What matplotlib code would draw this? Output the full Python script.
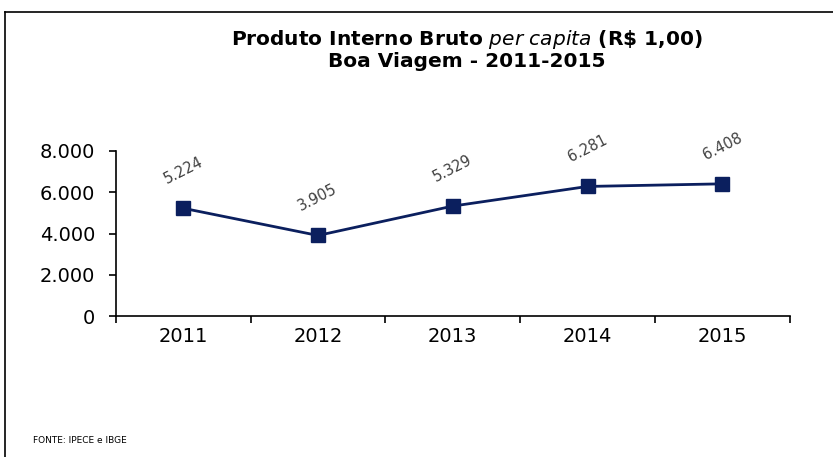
import matplotlib.pyplot as plt
from matplotlib.lines import Line2D

# Data
anos = ['2011', '2012', '2013', '2014', '2015']
pib_per_capita = [5224, 3905, 5329, 6281, 6408]
rotulos = ['5.224', '3.905', '5.329', '6.281', '6.408']
yticks = [0, 2000, 4000, 6000, 8000]
ytick_labels = ['0', '2.000', '4.000', '6.000', '8.000']

plt.rcParams['font.family'] = ['DejaVu Sans']

fig = plt.figure(figsize=(8.33, 4.57), dpi=100)
ax = fig.add_axes([0.139, 0.3085, 0.809, 0.3611])

x = range(len(anos))
ax.plot(x, pib_per_capita, color='#0b1f5e', linewidth=2, marker='s',
        markersize=10, markerfacecolor='#0b1f5e', markeredgecolor='#0b1f5e')

# Rotated data labels
for i, (v, txt) in enumerate(zip(pib_per_capita, rotulos)):
    ax.annotate(txt, (i, v), xytext=(0, 27), textcoords='offset points',
                ha='center', va='center', rotation=27, fontsize=10.5,
                color='#404040')

ax.set_xlim(-0.5, len(anos) - 0.5)
ax.set_ylim(0, 8000)
ax.set_yticks(yticks)
ax.set_yticklabels(ytick_labels, fontsize=14)
ax.set_xticks(x)
ax.set_xticklabels(anos, fontsize=14)
ax.set_xticks([i + 0.5 for i in range(-1, len(anos))], minor=True)
ax.tick_params(axis='x', which='major', length=0, pad=8)
ax.tick_params(axis='x', which='minor', length=5, width=1.2, direction='out')
ax.tick_params(axis='y', length=5, width=1.2, direction='out', pad=10)
ax.spines['top'].set_visible(False)
ax.spines['right'].set_visible(False)
ax.spines['left'].set_linewidth(1.2)
ax.spines['bottom'].set_linewidth(1.2)

# Title
fig.text(0.56, 0.913, r'Produto Interno Bruto $\it{per\ capita}$ (R\$ 1,00)',
         ha='center', va='center', fontsize=14.5, fontweight='bold')
fig.text(0.56, 0.865, 'Boa Viagem - 2011-2015', ha='center', va='center',
         fontsize=14.5, fontweight='bold')

# Footer
fig.text(0.04, 0.037, 'FONTE: IPECE e IBGE', ha='left', va='center', fontsize=6.5)

# Frame
fig.add_artist(Line2D([0.006, 0.006], [0.0, 0.974], color='black', linewidth=1.2,
                      transform=fig.transFigure))
fig.add_artist(Line2D([0.006, 1.0], [0.974, 0.974], color='black', linewidth=1.2,
                      transform=fig.transFigure))

fig.savefig('out.png', dpi=100, facecolor='white')
